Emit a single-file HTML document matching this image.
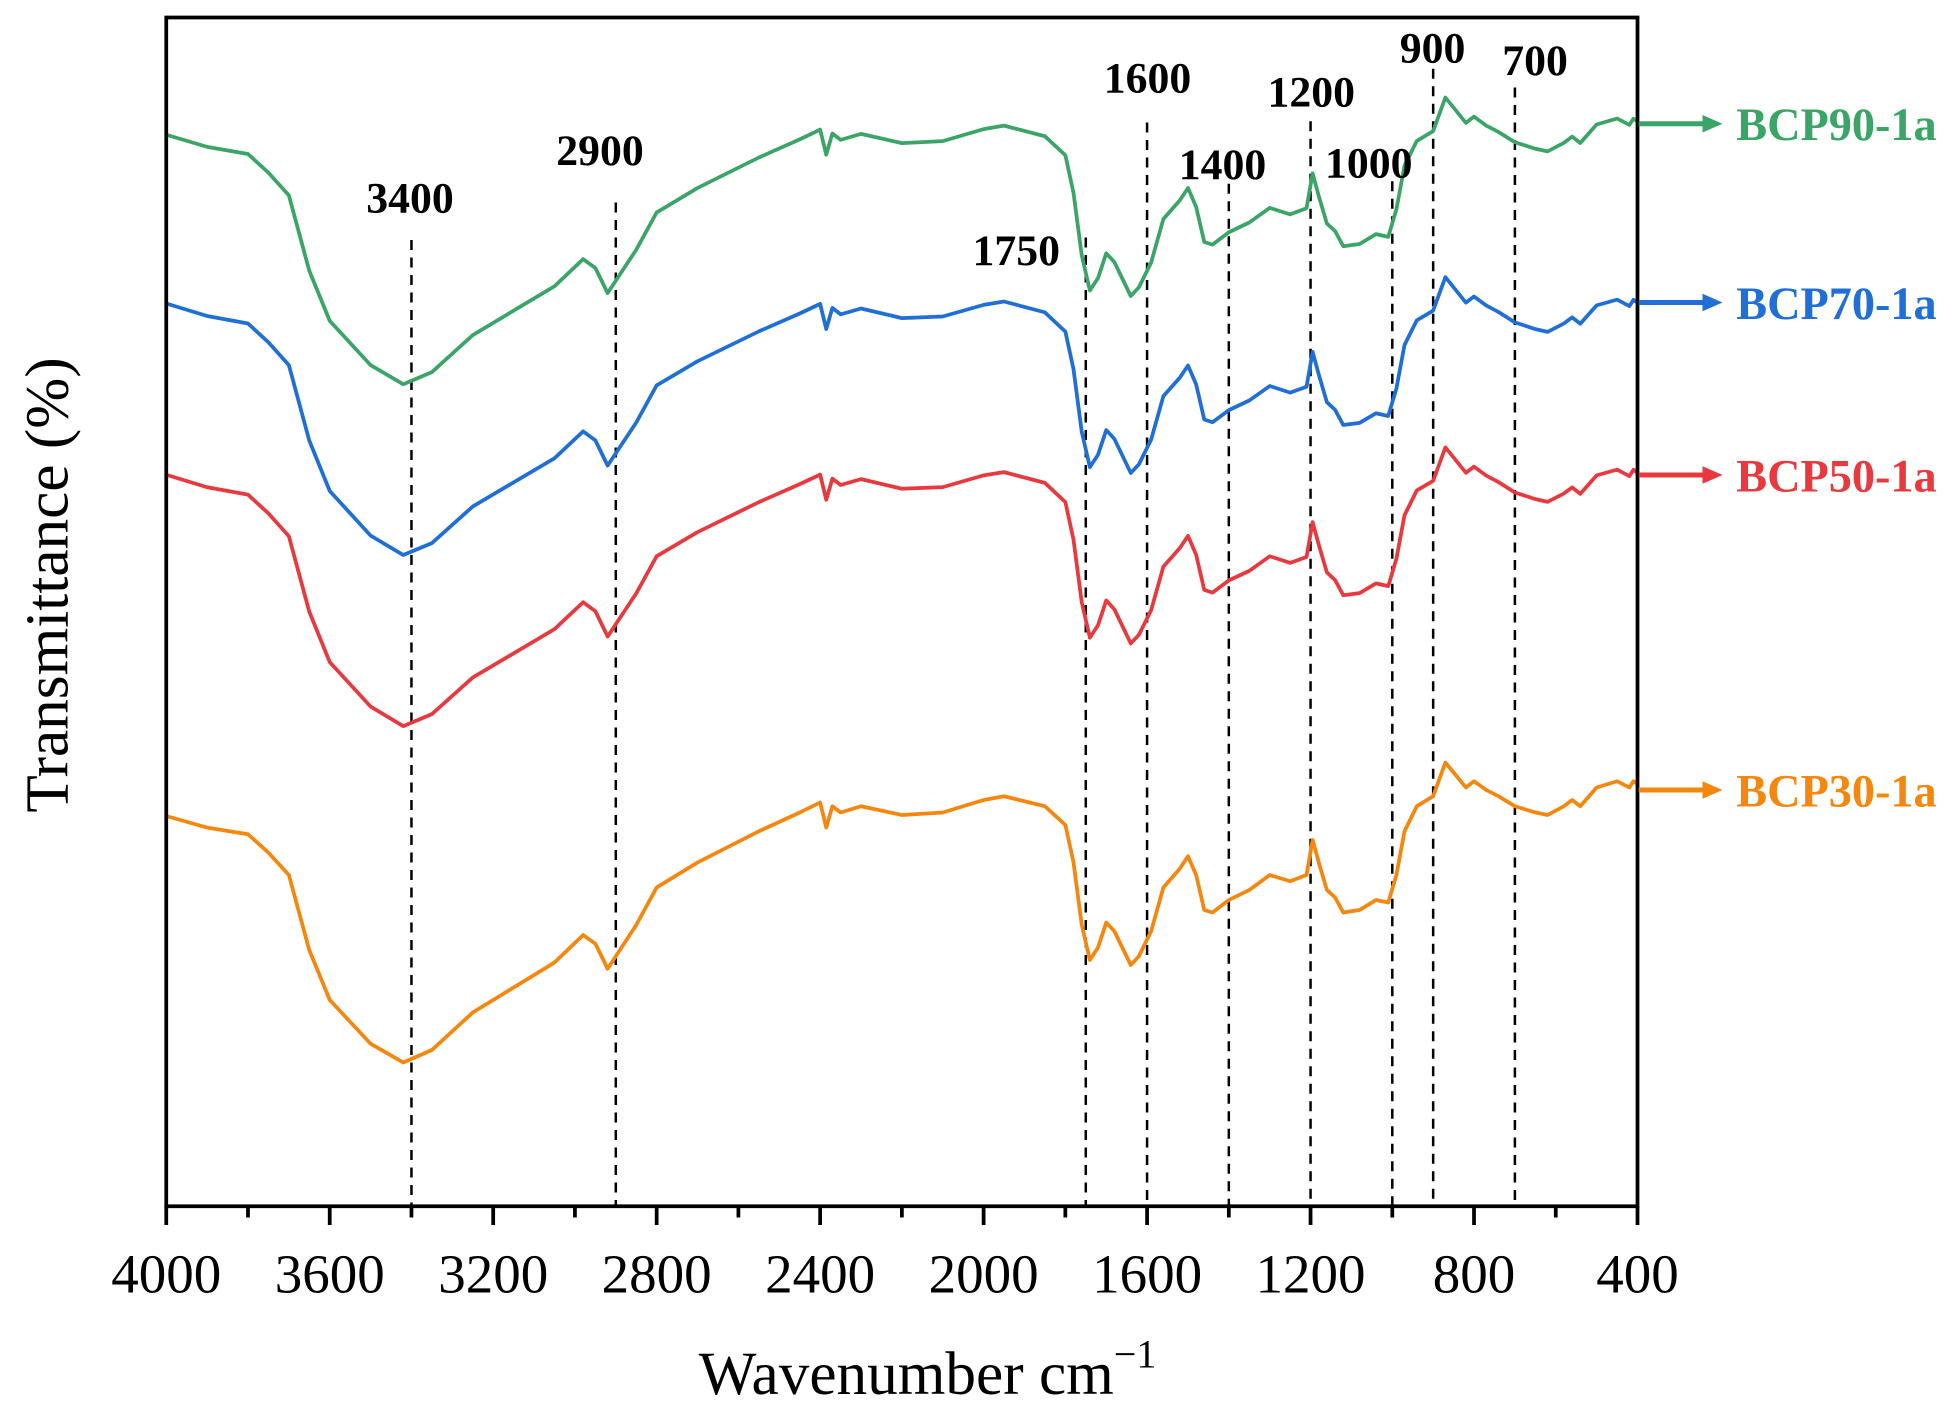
<!DOCTYPE html>
<html><head><meta charset="utf-8"><style>
html,body{margin:0;padding:0;background:#fff;}
svg{display:block;}
</style></head><body>
<svg id="s" width="1960" height="1428" viewBox="0 0 1568 1142.4" xmlns="http://www.w3.org/2000/svg" font-family="Liberation Serif, serif">
<rect x="0" y="0" width="1568" height="1142.4" fill="#fff"/>
<g id="dash" stroke="#000" stroke-width="2" stroke-dasharray="8,6"></g>
<g id="curves" fill="none" stroke-width="3" stroke-linejoin="round"></g>
<rect x="133" y="14" width="1177" height="951" fill="none" stroke="#000" stroke-width="3"/>
<g id="ticks" stroke="#000" stroke-width="3"></g>
<g id="tl" font-size="44" text-anchor="middle"></g>
<g id="pl" font-size="35" font-weight="bold" text-anchor="middle"></g>
<text x="742" y="1115" font-size="49" text-anchor="middle">Wavenumber cm<tspan font-size="32" dy="-21">−1</tspan></text>
<text transform="translate(54,468) rotate(-90)" font-size="49" text-anchor="middle">Transmittance (%)</text>
<g id="leg" font-size="37" font-weight="bold"></g>
</svg>
<script>
const NS="http://www.w3.org/2000/svg";
const X=w=>133+(4000-w)/3600*1177;
function el(p,t,a,txt){const e=document.createElementNS(NS,t);for(const k in a)e.setAttribute(k,a[k]);if(txt!==undefined)e.textContent=txt;document.getElementById(p).appendChild(e);return e;}
for(let w=4000;w>=400;w-=200){const maj=w%400==0;el("ticks","line",{x1:X(w),x2:X(w),y1:965,y2:maj?980:974});if(maj)el("tl","text",{x:X(w),y:1034},w);}
[[3400,192,328,158],[2900,162,480,120],[1750,190,813,200],[1600,98,918,62],[1400,147,978,131],[1200,97,1049,73],[1000,145,1095,130],[900,55,1146,38],[700,70,1228,48]].forEach(d=>{el("dash","line",{x1:X(d[0]),x2:X(d[0]),y1:d[1],y2:965});el("pl","text",{x:d[2],y:d[3]+12},d[0]);});
const base=[[4000,655],[3900,662],[3800,665],[3750,685],[3700,700],[3650,760],[3600,800],[3500,835],[3420,850],[3350,840],[3250,810],[3150,790],[3050,770],[2980,748],[2950,755],[2920,775],[2890,760],[2850,740],[2800,710],[2700,690],[2550,665],[2450,650],[2400,642],[2385,662],[2370,645],[2350,650],[2300,645],[2200,652],[2100,650],[2000,640],[1950,637],[1850,645],[1800,660],[1780,690],[1760,740],[1740,768],[1720,758],[1700,738],[1680,745],[1640,772],[1620,765],[1590,745],[1560,710],[1520,695],[1500,685],[1480,700],[1460,728],[1440,730],[1400,720],[1350,712],[1300,700],[1250,705],[1210,700],[1195,672],[1180,690],[1160,712],[1140,718],[1120,730],[1080,728],[1040,720],[1010,722],[990,700],[970,665],[940,645],[900,637],[870,610],[850,618],[820,630],[800,625],[770,632],[740,637],[700,645],[650,650],[620,652],[580,645],[560,640],[540,645],[500,630],[450,625],[420,630],[410,625],[400,627]];
const series=[["#f5870f",0,0,632,"BCP30-1a"],["#e8393f",-249,-273,380,"BCP50-1a"],["#1f6fd6",-385,-410,242,"BCP70-1a"],["#3aa566",-530,-545,99,"BCP90-1a"]];
series.forEach(s=>{let pts=base.map(p=>{const f=(p[0]-400)/3600;let n=0;if(p[0]>3700)n=Math.sin(p[0]*0.7)*3;return X(p[0]).toFixed(1)+","+(p[1]+s[1]+(s[2]-s[1])*f+n).toFixed(1);}).join(" ");
el("curves","polyline",{points:pts,stroke:s[0]});
el("leg","line",{x1:1311,x2:1365,y1:s[3],y2:s[3],stroke:s[0],"stroke-width":4});
el("leg","polygon",{points:`1362,${s[3]-7} 1378,${s[3]} 1362,${s[3]+7}`,fill:s[0]});
el("leg","text",{x:1389,y:s[3]+13,fill:s[0]},s[4]);});
</script>
</body></html>
